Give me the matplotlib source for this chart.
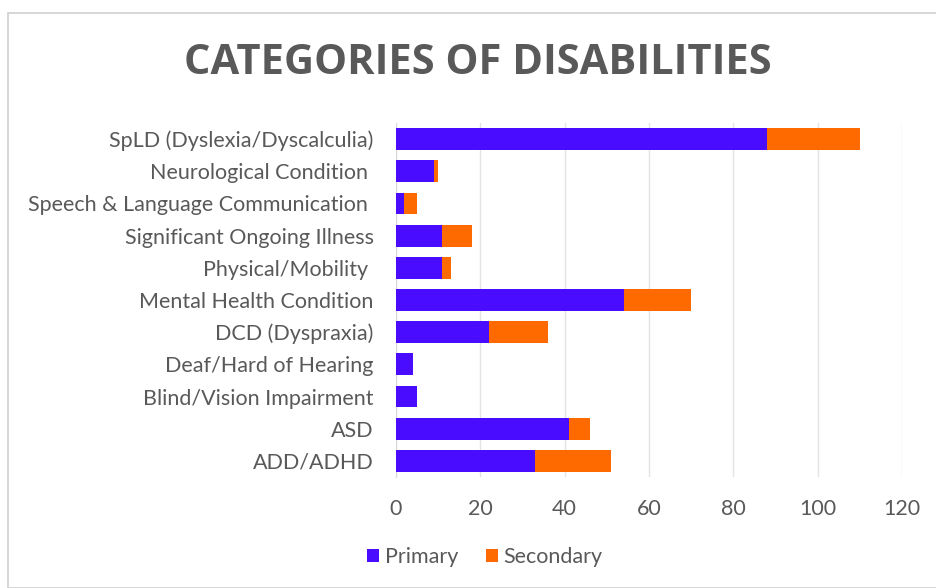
import matplotlib
matplotlib.use("Agg")
import matplotlib.pyplot as plt
from matplotlib.patches import Rectangle

categories = [
    "ADD/ADHD",
    "ASD",
    "Blind/Vision Impairment",
    "Deaf/Hard of Hearing",
    "DCD (Dyspraxia)",
    "Mental Health Condition",
    "Physical/Mobility ",
    "Significant Ongoing Illness",
    "Speech & Language Communication ",
    "Neurological Condition ",
    "SpLD (Dyslexia/Dyscalculia)",
]
primary = [33, 41, 5, 4, 22, 54, 11, 11, 2, 9, 88]
secondary = [18, 5, 0, 0, 14, 16, 2, 7, 3, 1, 22]
x_ticks = [0, 20, 40, 60, 80, 100, 120]

blue = "#4a0cff"
orange = "#ff6a00"
text_grey = "#595959"

plt.rcParams['font.family'] = ['Lato', 'DejaVu Sans']

fig = plt.figure(figsize=(9.36, 5.88), dpi=100)
fig.patches.append(Rectangle((8 / 936, 0), 1, 1 - 13 / 588, transform=fig.transFigure,
                             fill=False, edgecolor="#d0d0d0", linewidth=1.2))

ax = fig.add_axes([396 / 936, 1 - 477 / 588, 506 / 936, 354 / 588])
ypos = range(len(categories))
ax.barh(ypos, primary, height=0.68, color=blue, label="Primary", zorder=3)
ax.barh(ypos, secondary, left=primary, height=0.68, color=orange, label="Secondary", zorder=3)

ax.set_xlim(0, 120)
ax.set_ylim(-0.5, len(categories) - 0.5)
ax.set_xticks(x_ticks)
ax.set_yticks(list(ypos))
ax.set_yticklabels(categories)
ax.tick_params(axis="y", length=0, pad=16, labelsize=15.5, labelcolor=text_grey)
ax.tick_params(axis="x", length=0, pad=16, labelsize=15.5, labelcolor=text_grey)
ax.grid(axis="x", color="#e3e3e3", linewidth=1, zorder=0)
for side in ["top", "right", "bottom"]:
    ax.spines[side].set_visible(False)
ax.spines["left"].set_color("#d9d9d9")

fig.text(0.511, 1 - 63 / 588, "CATEGORIES OF DISABILITIES", ha="center", va="center",
         fontsize=30, fontweight="bold", color=text_grey, family=["Open Sans", "DejaVu Sans"])

fig.legend(loc="center", bbox_to_anchor=(0.518, 1 - 557 / 588), ncol=2, frameon=False,
           fontsize=15.5, labelcolor=text_grey, handlelength=0.55, handleheight=0.55,
           handletextpad=0.25, columnspacing=1.3)

fig.savefig("out.png", dpi=100)
